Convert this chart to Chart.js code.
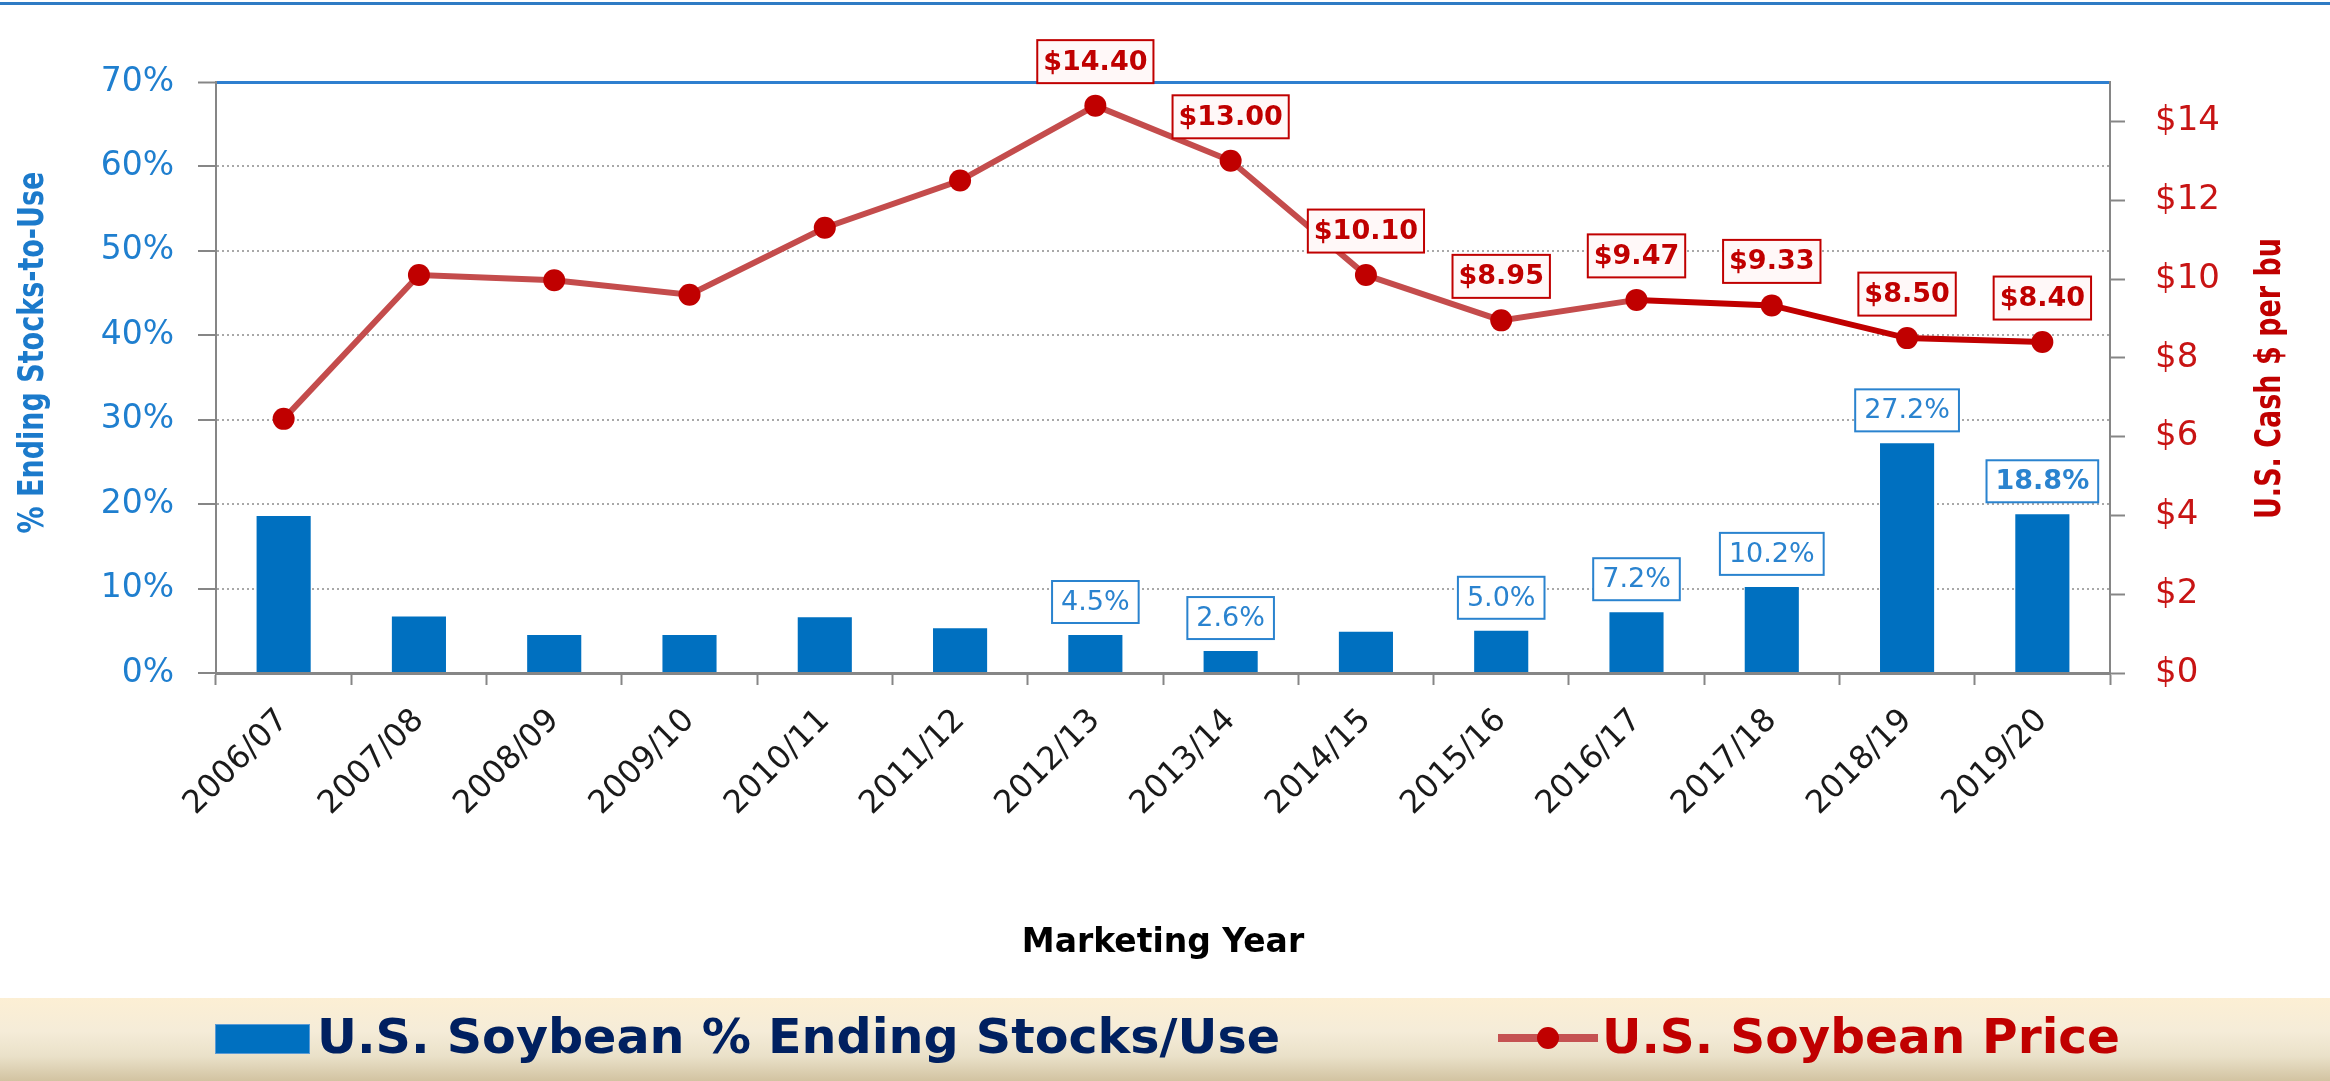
<!DOCTYPE html>
<html>
<head>
<meta charset="utf-8">
<script src="https://cdn.jsdelivr.net/npm/chart.js@4.4.1/dist/chart.umd.min.js"></script>
<style>
html,body{margin:0;padding:0;background:#fff;}
#wrap{position:relative;width:2330px;height:1081px;overflow:hidden;background:#fff;}
#topline{position:absolute;left:0;top:2px;width:2330px;height:3px;background:#2E7BC4;}
#chartBox{position:absolute;left:0;top:0;width:2330px;height:998px;}
#legend{position:absolute;left:0;top:998px;width:2330px;height:83px;
  background:linear-gradient(to bottom,#FCEFD4 0%,#F5ECD8 40%,#EAE1C9 70%,#D2C3A1 100%);}
.lgText{position:absolute;white-space:nowrap;font-family:"DejaVu Sans Condensed","DejaVu Sans",sans-serif;
  font-weight:bold;font-size:48px;line-height:48px;transform-origin:0 50%;}
#lgBox{position:absolute;left:215px;top:26px;width:95px;height:30px;background:#0070C0;border:1px solid #5B9BD5;box-sizing:border-box;}
#lgLine{position:absolute;left:1498px;top:36px;width:100px;height:8px;background:#C55252;}
#lgDot{position:absolute;left:1537px;top:29px;width:22px;height:22px;border-radius:50%;background:#C00000;}
</style>
</head>
<body>
<div id="wrap">
  <div id="chartBox"><canvas id="c" width="2330" height="998"></canvas></div>
  <div id="topline"></div>
  <div id="legend">
    <div id="lgBox"></div>
    <span class="lgText" id="lg1" style="left:317px;top:14px;color:#002060;"></span>
    <div id="lgLine"></div>
    <div id="lgDot"></div>
    <span class="lgText" id="lg2" style="left:1602px;top:14px;color:#C00000;"></span>
  </div>
</div>
<script>
// ---------- data ----------
const categories = ['2006/07','2007/08','2008/09','2009/10','2010/11','2011/12','2012/13',
                    '2013/14','2014/15','2015/16','2016/17','2017/18','2018/19','2019/20'];
const stocksToUse = [18.6, 6.7, 4.5, 4.5, 6.6, 5.3, 4.5, 2.6, 4.9, 5.0, 7.2, 10.2, 27.2, 18.8];
const soybeanPrice = [6.45, 10.10, 9.97, 9.60, 11.30, 12.50, 14.40, 13.00, 10.10, 8.95, 9.47, 9.33, 8.50, 8.40];
const stocksLabelled = [0,0,0,0,0,0,1,1,0,1,1,1,1,1];
const priceLabelled  = [0,0,0,0,0,0,1,1,1,1,1,1,1,1];
const pctTicks = [0,10,20,30,40,50,60,70];
const priceTicks = [0,2,4,6,8,10,12,14];
const seriesNames = ['U.S. Soybean % Ending Stocks/Use','U.S. Soybean Price'];
const leftTitle = '% Ending Stocks-to-Use';
const rightTitle = 'U.S. Cash $ per bu';
const xTitle = 'Marketing Year';

// ---------- legend ----------
document.getElementById('lg1').textContent = seriesNames[0];
document.getElementById('lg2').textContent = seriesNames[1];
function fitWidth(id, target){
  const el = document.getElementById(id);
  const w = el.getBoundingClientRect().width;
  if (w > 0) el.style.transform = 'scaleX(' + (target / w) + ')';
}
fitWidth('lg1', 963);
fitWidth('lg2', 518);

// ---------- plugins ----------
function drawBox(ctx, cx, cy, txt, o){
  ctx.save();
  ctx.font = o.font;
  const tw = ctx.measureText(txt).width;
  const w = tw + 2*o.padX, h = o.h;
  ctx.fillStyle = o.fill;
  ctx.fillRect(cx - w/2, cy - h/2, w, h);
  ctx.lineWidth = 2;
  ctx.strokeStyle = o.border;
  ctx.strokeRect(cx - w/2, cy - h/2, w, h);
  ctx.fillStyle = o.color;
  ctx.textAlign = 'center';
  ctx.textBaseline = 'middle';
  ctx.fillText(txt, cx, cy + 1);
  ctx.restore();
}
const valueLabels = {
  id: 'valueLabels',
  afterDatasetsDraw(chart){
    const ctx = chart.ctx;
    chart.getDatasetMeta(0).data.forEach((el, i) => {
      if (!stocksLabelled[i]) return;
      drawBox(ctx, el.x, el.y - 33, stocksToUse[i].toFixed(1) + '%',
        {font: (i === 13 ? 'bold ' : '') + '27px "DejaVu Sans"', color:'#2A83CF', border:'#2A83CF', fill:'#FFFFFF', padX:9, h:42});
    });
    chart.getDatasetMeta(1).data.forEach((el, i) => {
      if (!priceLabelled[i]) return;
      drawBox(ctx, el.x, el.y - 44, '$' + soybeanPrice[i].toFixed(2),
        {font:'bold 27px "DejaVu Sans"', color:'#C00000', border:'#C00000', fill:'#FFF8F8', padX:6, h:43});
    });
  }
};
const axisTitles = {
  id: 'axisTitles',
  afterDraw(chart){
    const ctx = chart.ctx;
    const ca = chart.chartArea;
    const mid = (ca.top + ca.bottom) / 2;
    ctx.save();
    ctx.translate(34, mid - 25);
    ctx.rotate(-Math.PI/2);
    ctx.scale(1, 1.3);
    ctx.font = 'bold 27px "DejaVu Sans"';
    ctx.fillStyle = '#1B7ACB';
    ctx.textAlign = 'center';
    ctx.textBaseline = 'middle';
    ctx.fillText(leftTitle, 0, 0);
    ctx.restore();

    ctx.save();
    ctx.translate(2271, mid + 1);
    ctx.rotate(-Math.PI/2);
    ctx.scale(1, 1.3);
    ctx.font = 'bold 27px "DejaVu Sans"';
    ctx.fillStyle = '#C00000';
    ctx.textAlign = 'center';
    ctx.textBaseline = 'middle';
    ctx.fillText(rightTitle, 0, 0);
    ctx.restore();
  }
};

// ---------- chart ----------
new Chart(document.getElementById('c'), {
  data: {
    labels: categories,
    datasets: [
      {
        type: 'bar',
        label: seriesNames[0],
        data: stocksToUse,
        yAxisID: 'y',
        backgroundColor: '#0070C0',
        barPercentage: 0.4,
        categoryPercentage: 1.0,
        order: 2
      },
      {
        type: 'line',
        label: seriesNames[1],
        data: soybeanPrice,
        yAxisID: 'y2',
        borderColor: '#C00000',
        borderWidth: 6,
        pointRadius: 11,
        pointHoverRadius: 11,
        pointBorderWidth: 0,
        pointBackgroundColor: '#C00000',
        pointBorderColor: '#C00000',
        tension: 0,
        segment: {
          borderColor: c => c.p0DataIndex >= 10 ? '#C00000' : '#C44C4C'
        },
        order: 1
      }
    ]
  },
  options: {
    responsive: false,
    animation: false,
    events: [],
    layout: { padding: { top: 82, left: 0, right: 0, bottom: 0 } },
    plugins: { legend: { display: false }, tooltip: { enabled: false } },
    scales: {
      x: {
        type: 'category',
        offset: true,
        grid: { offset: true, drawOnChartArea: false, drawTicks: true, tickLength: 12, tickColor: '#868686', tickWidth: 2 },
        border: { color: '#868686', width: 3 },
        ticks: { minRotation: 45, maxRotation: 45, autoSkip: false, padding: 17,
                 font: { family: '"DejaVu Sans"', size: 32 }, color: '#1A1A1A' },
        title: { display: true, text: xTitle, color: '#000',
                 font: { family: '"DejaVu Sans"', size: 33, weight: 'bold' },
                 padding: { top: 0, bottom: 35 } },
        afterFit: s => { s.height = 325; }
      },
      y: {
        position: 'left',
        min: 0, max: 70,
        afterBuildTicks: s => { s.ticks = pctTicks.map(v => ({ value: v })); },
        grid: {
          color: c => (c.tick && c.tick.value === 70) ? '#2E7FCF' : '#A8A8A8',
          lineWidth: c => (c.tick && c.tick.value === 70) ? 3 : 2,
          tickColor: '#868686', tickWidth: 2, tickLength: 18
        },
        border: { color: '#868686', width: 2,
                  dash: c => (c.tick && c.tick.value === 70) ? [] : [2, 3] },
        ticks: { padding: 24, color: '#1F7FCF',
                 font: { family: '"DejaVu Sans"', size: 33 },
                 callback: v => v + '%' },
        afterFit: s => { s.width = 216; }
      },
      y2: {
        position: 'right',
        min: 0, max: 15,
        afterBuildTicks: s => { s.ticks = priceTicks.map(v => ({ value: v })); },
        grid: { drawOnChartArea: false, drawTicks: true, tickLength: 15, tickColor: '#868686', tickWidth: 2 },
        border: { color: '#868686', width: 2 },
        ticks: { padding: 30, color: '#C81414',
                 font: { family: '"DejaVu Sans"', size: 34 },
                 callback: v => '$' + v },
        afterFit: s => { s.width = 220; }
      }
    }
  },
  plugins: [valueLabels, axisTitles]
});
</script>
</body>
</html>
